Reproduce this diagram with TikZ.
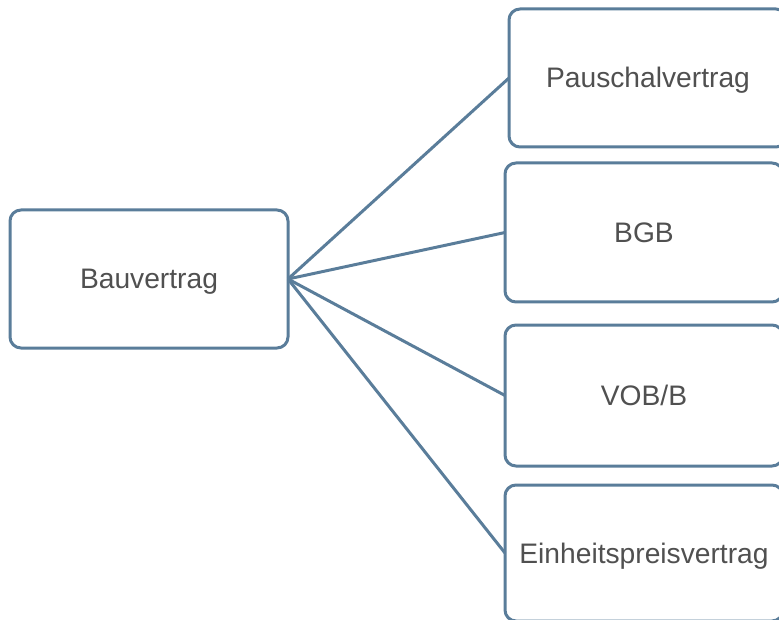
\documentclass[tikz,border=0pt]{standalone}
\usepackage{fontspec}
\setmainfont{Liberation Sans}
\definecolor{edgeblue}{RGB}{90,125,154}
\definecolor{labelgrey}{RGB}{80,80,80}
\begin{document}
\begin{tikzpicture}[x=1pt,y=-1pt,
  box/.style={draw=edgeblue, line width=3pt, rounded corners=11pt, fill=white,
    minimum width=278pt, inner sep=0pt, outer sep=0pt,
    text=labelgrey, font=\fontsize{28.2}{34}\selectfont,
    text height=20pt, text depth=0pt},
  link/.style={draw=edgeblue, line width=3pt}]
  \useasboundingbox (0,0) rectangle (779,620);
  \clip (0,0) rectangle (779,620);
  % root box
  \node[box, minimum height=138pt] (bau) at (149,279) {Bauvertrag};
  % contract types
  \node[box, minimum height=138pt] (pausch) at (648,78) {Pauschalvertrag};
  \node[box, minimum height=139pt] (bgb) at (644,232.5) {BGB};
  \node[box, minimum height=141pt] (vob) at (644,395.5) {VOB/B};
  \node[box, minimum height=136pt] (ep) at (644,553) {Einheitspreisvertrag};
  % connectors
  \draw[link] (bau.east) -- (pausch.west);
  \draw[link] (bau.east) -- (bgb.west);
  \draw[link] (bau.east) -- (vob.west);
  \draw[link] (bau.east) -- (ep.west);
\end{tikzpicture}
\end{document}
